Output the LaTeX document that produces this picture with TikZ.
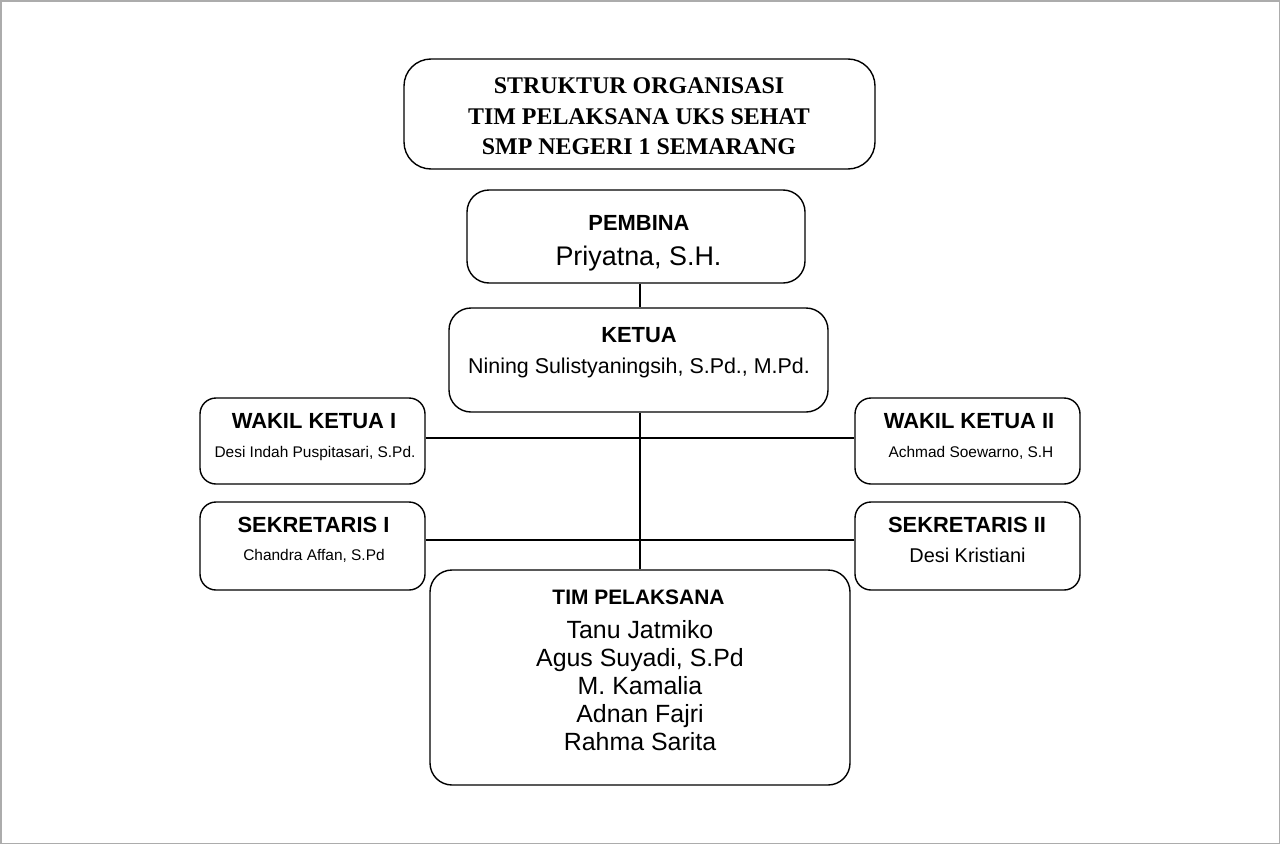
\documentclass[tikz,border=0pt]{standalone}
\usepackage{fontspec}
\setmainfont{Liberation Serif}
\setsansfont{Liberation Sans}
\usepackage{tikz}
\usetikzlibrary{shapes}

\tikzset{
  box/.style={draw,rectangle,line width=1.4bp,rounded corners=22bp,inner sep=0pt},
  smallbox/.style={box,rounded corners=16bp,minimum width=225bp},
  title/.style={anchor=base,font=\rmfamily\bfseries\fontsize{24}{24}\selectfont},
  head/.style={anchor=base,font=\sffamily\bfseries\fontsize{22}{26}\selectfont},
  member/.style={anchor=base,font=\sffamily\fontsize{#1}{#1}\selectfont},
  link/.style={line width=1.5bp}
}

\begin{document}
\begin{tikzpicture}

\useasboundingbox (0bp,0bp) rectangle (1280bp,-844bp);
\draw [gray!65,line width=3bp] (0bp,0bp) rectangle (1280bp,-844bp);

% boxes
\node (judul) at (639.5bp,-114bp)[box,rounded corners=27bp,minimum width=471bp,minimum height=110bp] {};
\node (pembina) at (636bp,-236.5bp)[box,minimum width=338bp,minimum height=93bp] {};
\node (ketua) at (638.5bp,-360bp)[box,minimum width=379bp,minimum height=104bp] {};
\node (wakil1) at (312.5bp,-441bp)[smallbox,minimum height=86bp] {};
\node (wakil2) at (967.5bp,-441bp)[smallbox,minimum height=86bp] {};
\node (sekre1) at (312.5bp,-546bp)[smallbox,minimum height=88bp] {};
\node (sekre2) at (967.5bp,-546bp)[smallbox,minimum height=88bp] {};
\node (tim) at (640bp,-677.5bp)[box,minimum width=420bp,minimum height=215bp] {};

% texts
\node (judul1) at (639bp,-93bp)[title] {STRUKTUR ORGANISASI};
\node (judul2) at (639bp,-124bp)[title] {TIM PELAKSANA UKS SEHAT};
\node (judul3) at (639bp,-154bp)[title] {SMP NEGERI 1 SEMARANG};

\node (pembina-h) at (639bp,-230bp)[head] {PEMBINA};
\node (pembina-n) at (638.5bp,-265bp)[member=27] {Priyatna, S.H.};

\node (ketua-h) at (639bp,-342bp)[head] {KETUA};
\node (ketua-n) at (639bp,-373bp)[member=21.5] {Nining Sulistyaningsih, S.Pd., M.Pd.};

\node (wakil1-h) at (314bp,-428bp)[head] {WAKIL KETUA I};
\node (wakil1-n) at (315bp,-457bp)[member=15.5] {Desi Indah Puspitasari, S.Pd.};
\node (wakil2-h) at (969bp,-428bp)[head] {WAKIL KETUA II};
\node (wakil2-n) at (971bp,-457bp)[member=15.5] {Achmad Soewarno, S.H};

\node (sekre1-h) at (313.5bp,-532bp)[head] {SEKRETARIS I};
\node (sekre1-n) at (314bp,-560bp)[member=15.5] {Chandra Affan, S.Pd};
\node (sekre2-h) at (967bp,-532bp)[head] {SEKRETARIS II};
\node (sekre2-n) at (967.5bp,-562bp)[member=20] {Desi Kristiani};

\node (tim-h) at (638.5bp,-604bp)[head,font=\sffamily\bfseries\fontsize{21}{21}\selectfont] {TIM PELAKSANA};
\node (tim-1) at (640bp,-638bp)[member=25] {Tanu Jatmiko};
\node (tim-2) at (640bp,-666bp)[member=25] {Agus Suyadi, S.Pd};
\node (tim-3) at (640bp,-694bp)[member=25] {M. Kamalia};
\node (tim-4) at (640bp,-722bp)[member=25] {Adnan Fajri};
\node (tim-5) at (640bp,-750bp)[member=25] {Rahma Sarita};

% lines
\draw [link] (pembina.south -| tim.north) -- (ketua.north -| tim.north);
\draw [link] (ketua.south -| tim.north) -- (tim.north);
\draw [link] ([yshift=3bp]wakil1.east) -- ([yshift=3bp]wakil2.west);
\draw [link] ([yshift=6bp]sekre1.east) -- ([yshift=6bp]sekre2.west);
\end{tikzpicture}
\end{document}
